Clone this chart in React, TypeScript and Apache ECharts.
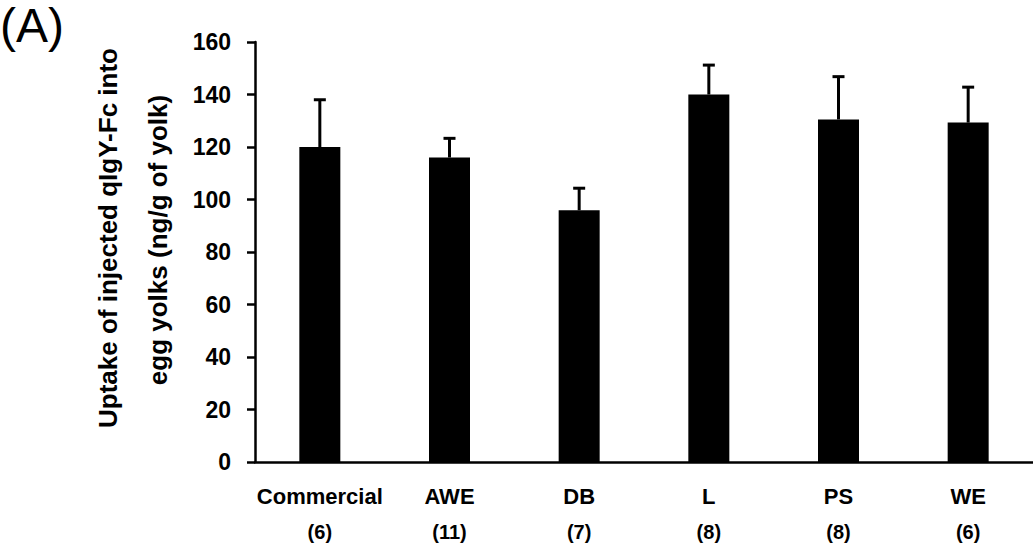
import React, { useEffect, useRef } from "react";
import * as echarts from "echarts";

const categories = ["Commercial", "AWE", "DB", "L", "PS", "WE"];
const counts = ["(6)", "(11)", "(7)", "(8)", "(8)", "(6)"];
const means = [120, 116, 95.9, 140, 130.5, 129.3];
const errors = [18, 7.3, 8.4, 11.2, 16.3, 13.5];
const yTicks = [0, 20, 40, 60, 80, 100, 120, 140, 160];

const FONT = "'Liberation Sans', Arial, sans-serif";

export default function App() {
  const ref = useRef<HTMLDivElement>(null);
  useEffect(() => {
    if (!ref.current) return;
    const chart = echarts.init(ref.current, undefined, { renderer: "svg" });
    const errData = means.map((m, i) => [i, m, m + errors[i]]);
    chart.setOption({
      animation: false,
      backgroundColor: "#ffffff",
      textStyle: { fontFamily: FONT },
      grid: { left: 255, top: 42, width: 785, height: 420, containLabel: false },
      xAxis: {
        type: "category",
        data: categories.map((c, i) => c + "\n" + counts[i]),
        axisLine: { lineStyle: { color: "#000", width: 2.5 } },
        axisTick: { show: false },
        axisLabel: {
          interval: 0,
          margin: 17,
          formatter: (v: string) => {
            const [a, b] = v.split("\n");
            return "{a|" + a + "}\n{b|" + b + "}";
          },
          rich: {
            a: { fontSize: 22, fontWeight: "bold", color: "#000", lineHeight: 35, fontFamily: FONT },
            b: { fontSize: 20, fontWeight: "bold", color: "#000", lineHeight: 35, fontFamily: FONT },
          },
        },
      },
      yAxis: {
        type: "value",
        min: yTicks[0],
        max: yTicks[yTicks.length - 1],
        interval: 20,
        axisLine: { show: true, lineStyle: { color: "#000", width: 2.5 } },
        axisTick: { show: true, length: 8, lineStyle: { color: "#000", width: 2.5 } },
        splitLine: { show: false },
        axisLabel: { margin: 24, fontSize: 23, fontWeight: "bold", color: "#000", fontFamily: FONT },
      },
      graphic: [
        {
          type: "text",
          left: 0,
          top: 1,
          style: { text: "(A)", fontSize: 48, fill: "#000", fontFamily: FONT },
        },
        {
          type: "text",
          x: 108,
          y: 238,
          rotation: Math.PI / 2,
          style: {
            text: "Uptake of injected qIgY-Fc into",
            fontSize: 26,
            fontWeight: "bold",
            fill: "#000",
            fontFamily: FONT,
            align: "center",
            verticalAlign: "middle",
          },
        },
        {
          type: "text",
          x: 158,
          y: 240,
          rotation: Math.PI / 2,
          style: {
            text: "egg yolks (ng/g of yolk)",
            fontSize: 26,
            fontWeight: "bold",
            fill: "#000",
            fontFamily: FONT,
            align: "center",
            verticalAlign: "middle",
          },
        },
      ],
      series: [
        {
          type: "bar",
          data: means,
          barWidth: 41,
          itemStyle: { color: "#000" },
          z: 2,
        },
        {
          type: "custom",
          data: errData,
          z: 3,
          renderItem: (params: any, api: any) => {
            const x = api.value(0);
            const lo = api.coord([x, api.value(1)]);
            const hi = api.coord([x, api.value(2)]);
            const hw = 6;
            const style = { stroke: "#000", lineWidth: 3 };
            return {
              type: "group",
              children: [
                { type: "line", shape: { x1: lo[0], y1: lo[1], x2: hi[0], y2: hi[1] }, style },
                { type: "line", shape: { x1: hi[0] - hw, y1: hi[1], x2: hi[0] + hw, y2: hi[1] }, style },
              ],
            };
          },
        },
      ],
    });
    return () => chart.dispose();
  }, []);
  return (
    <div
      ref={ref}
      style={{ position: "fixed", left: 0, top: 0, width: 1033, height: 552 }}
    />
  );
}
